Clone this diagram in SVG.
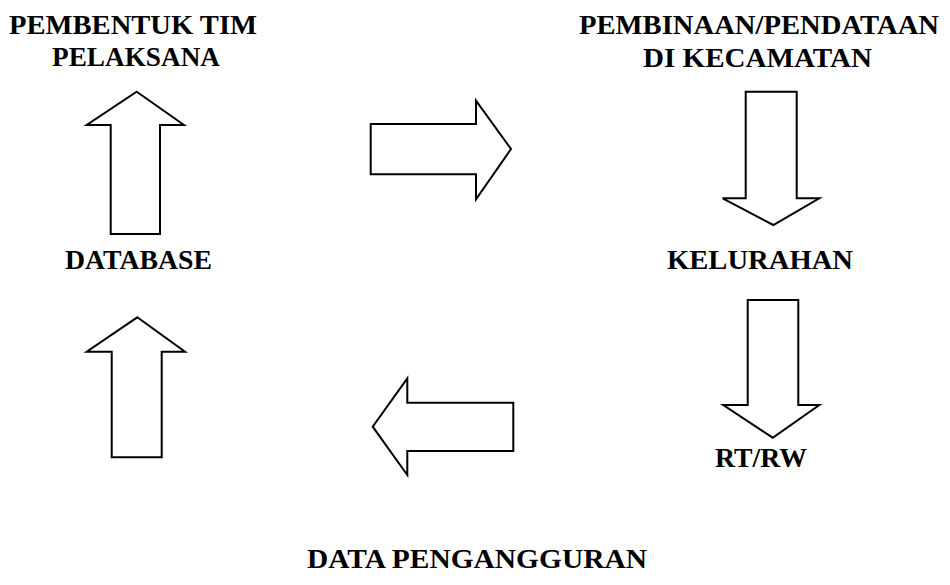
<svg xmlns="http://www.w3.org/2000/svg" width="950" height="585" viewBox="0 0 950 585">
<style>
.lbl{font-family:"Liberation Serif","Times New Roman",serif;font-weight:bold;font-size:28px;fill:#000;text-anchor:middle}
.arr{fill:#fff;stroke:#000;stroke-width:2;stroke-linejoin:miter}
</style>
<rect width="950" height="585" fill="#fff"/>
<g id="connectors">
<polygon class="arr" points="136.7,91.7 184,125 160,125 160,234 110.7,234 110.7,125 86.7,125"/>
<polygon class="arr" points="370.7,124 476,124 476,100.7 511,149 476,199.3 476,174.3 370.7,174.3"/>
<polygon class="arr" points="745.7,91.7 796.7,91.7 796.7,198.3 819.3,198.3 773.3,225 722.7,198.3 745.7,198.3"/>
<polygon class="arr" points="137.3,317.3 185,351.7 161.7,351.7 161.7,457.3 111.7,457.3 111.7,351.7 86.7,351.7"/>
<polygon class="arr" points="513.3,402.7 407.3,402.7 407.3,378.3 372.7,426.7 407.3,475 407.3,451 513.3,451"/>
<polygon class="arr" points="747.7,300 798.3,300 798.3,405 819.3,405 772.7,437.7 723.3,405 747.7,405"/>
</g>
<g id="node-pembentuk"><text class="lbl" x="133" y="34" textLength="248" lengthAdjust="spacingAndGlyphs">PEMBENTUK TIM</text><text class="lbl" x="136" y="66" textLength="168" lengthAdjust="spacingAndGlyphs">PELAKSANA</text></g>
<g id="node-pembinaan"><text class="lbl" x="759" y="34" textLength="360" lengthAdjust="spacingAndGlyphs">PEMBINAAN/PENDATAAN</text><text class="lbl" x="757.5" y="67" textLength="229" lengthAdjust="spacingAndGlyphs">DI KECAMATAN</text></g>
<g id="node-database"><text class="lbl" x="138.5" y="269" textLength="147" lengthAdjust="spacingAndGlyphs">DATABASE</text></g>
<g id="node-kelurahan"><text class="lbl" x="760" y="269" textLength="186" lengthAdjust="spacingAndGlyphs">KELURAHAN</text></g>
<g id="node-rtrw"><text class="lbl" x="761" y="467" textLength="92" lengthAdjust="spacingAndGlyphs">RT/RW</text></g>
<g id="node-data"><text class="lbl" x="477" y="568" textLength="340" lengthAdjust="spacingAndGlyphs">DATA PENGANGGURAN</text></g>
</svg>
